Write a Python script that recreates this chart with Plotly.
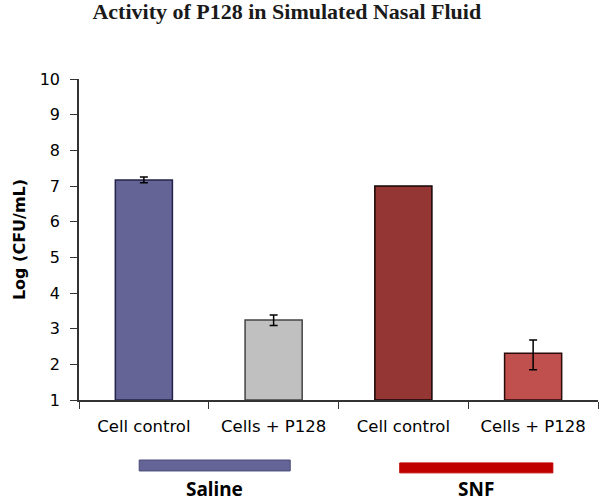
import plotly.graph_objects as go

categories = ["Cell control", "Cells + P128", "Cell control ", "Cells + P128 "]
tick_text = ["Cell control", "Cells + P128", "Cell control", "Cells + P128"]
values = [7.17, 3.24, 7.0, 2.31]
err_cats = ["Cell control", "Cells + P128", "Cells + P128 "]
err_vals = [7.17, 3.24, 2.31]
err_plus = [0.08, 0.14, 0.37]
err_minus = [0.08, 0.15, 0.46]
fill_colors = ["#646496", "#c0c0c0", "#943634", "#c0504d"]
line_colors = ["#23234a", "#444444", "#150505", "#2a0a0a"]
groups = ["Saline", "SNF"]
group_colors = ["#646496", "#c00000"]

fig = go.Figure()
fig.add_trace(go.Bar(
    x=categories, y=[v - 1 for v in values], base=1,
    width=0.44,
    marker=dict(color=fill_colors, line=dict(color=line_colors, width=1.5)),
    showlegend=False,
))
fig.add_trace(go.Scatter(
    x=err_cats, y=err_vals, mode="markers",
    marker=dict(size=1, opacity=0),
    error_y=dict(type="data", symmetric=False, array=err_plus, arrayminus=err_minus,
                 color="black", thickness=1.5, width=4, visible=True),
    showlegend=False, hoverinfo="skip",
))

fig.update_layout(
    width=600, height=501,
    margin=dict(l=79, r=2, t=79, b=101),
    plot_bgcolor="white", paper_bgcolor="white",
    title=dict(text="<b>Activity of P128 in Simulated Nasal Fluid</b>",
               x=0.478, xanchor="center", y=0.992, yanchor="top",
               font=dict(family="Liberation Serif", size=22, color="#1a1a1a")),
    xaxis=dict(type="category", tickmode="array", tickvals=categories, ticktext=tick_text,
               tickson="boundaries", ticks="outside", ticklen=7, tickcolor="#333",
               showline=True, linecolor="#333", linewidth=1.5, showgrid=False,
               ticklabelstandoff=10,
               tickfont=dict(family="DejaVu Sans", size=16.5, color="black"),
               range=[-0.5, 3.5]),
    yaxis=dict(range=[1, 10], dtick=1, ticks="outside", ticklen=7, tickcolor="#333",
               showline=True, linecolor="#333", linewidth=1.5, showgrid=False, zeroline=False,
               ticklabelstandoff=7,
               tickfont=dict(family="DejaVu Sans", size=16, color="black"),
               title=dict(text="<b>Log (CFU/mL)</b>", standoff=10,
                          font=dict(family="DejaVu Sans", size=16, color="black"))),
)

# group indicator bars and labels (paper coordinates)
group_spans = [(0.116, 0.407, -0.187, -0.221), (0.618, 0.913, -0.196, -0.227)]
group_lines = ["#4a4a7a", "#c00000"]
for g, c, lc, (x0, x1, y0, y1) in zip(groups, group_colors, group_lines, group_spans):
    fig.add_shape(type="rect", xref="paper", yref="paper", x0=x0, x1=x1, y0=y0, y1=y1,
                  fillcolor=c, line=dict(color=lc, width=1))
    fig.add_annotation(text=f"<b>{g}</b>", xref="paper", yref="paper",
                       x=(x0 + x1) / 2, y=-0.232, xanchor="center", yanchor="top",
                       showarrow=False,
                       font=dict(family="Noto Sans", size=19, color="black"))

fig.write_html("out.html", config={"displayModeBar": False},
               post_script="document.body.style.margin='0';")
